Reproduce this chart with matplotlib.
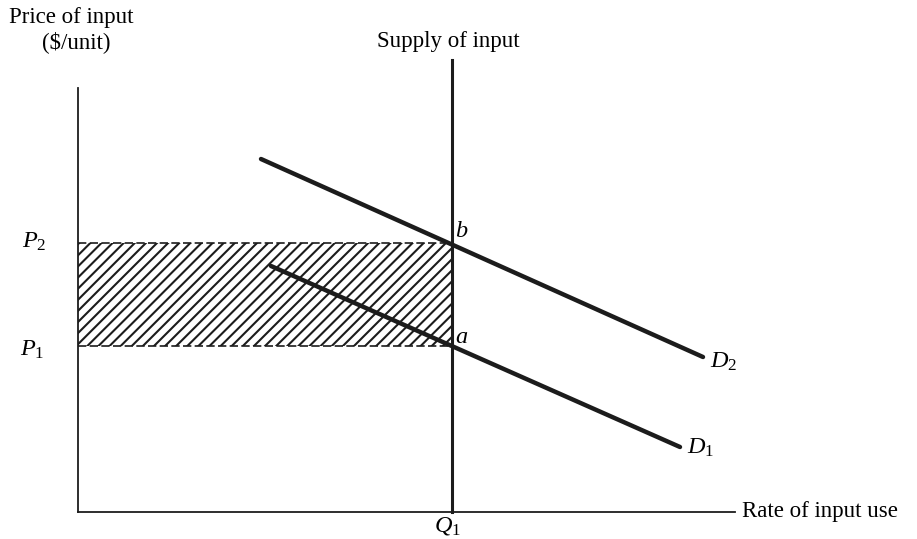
import numpy as np
import matplotlib.pyplot as plt
import matplotlib as mpl

mpl.rcParams['mathtext.fontset'] = 'custom'
mpl.rcParams['mathtext.rm'] = 'Liberation Serif'
mpl.rcParams['mathtext.it'] = 'Liberation Serif:italic'
mpl.rcParams['hatch.linewidth'] = 1.5

# Werte (Koordinaten relativ zum Ursprung)
q1 = 374
p1 = 166
p2 = 269
d1_x = [193, 602]
d1_y = [246, 65]
d2_x = [183, 625]
d2_y = [353, 155]
supply_top = 452
y_axis_top = 424
x_axis_end = 657

ink = '#1c1c1c'
serif = 'Liberation Serif'

fig = plt.figure(figsize=(9.17, 5.39), dpi=100)
ax = fig.add_axes([0, 0, 1, 1])
ax.set_xlim(-78, 839)
ax.set_ylim(-27, 512)
ax.axis('off')

# Achsen
ax.plot([0, 0], [0, y_axis_top], color=ink, lw=1.3)
ax.plot([0, x_axis_end], [0, 0], color=ink, lw=1.3)

# Schraffierte Fläche zwischen P1 und P2
ax.fill_between([0, q1], p1, p2, facecolor='none', edgecolor=ink, hatch='///', lw=0)
ax.plot([0, q1], [p2, p2], color=ink, lw=1.2, ls=(0, (5, 2)))
ax.plot([0, q1], [p1, p1], color=ink, lw=1.2, ls=(0, (5, 2)))

# Angebot
ax.plot([q1, q1], [0, supply_top], color=ink, lw=2.2)

# Nachfragekurven
ax.plot(d1_x, d1_y, color=ink, lw=3.2, solid_capstyle='round')
ax.plot(d2_x, d2_y, color=ink, lw=3.2, solid_capstyle='round')

# Beschriftungen
fs = 16.5
fi = 17.5
ax.text(-7, 494, 'Price of input', fontsize=fs, family=serif, ha='center', va='center')
ax.text(-2, 470, '($/unit)', fontsize=fs, family=serif, ha='center', va='center')
ax.text(q1 - 4, 471, 'Supply of input', fontsize=fs, family=serif, ha='center', va='center')
ax.text(664, 0, 'Rate of input use', fontsize=fs, family=serif, ha='left', va='center')

ax.text(-44, p2 + 2, r'$P_2$', fontsize=fi, ha='center', va='center')
ax.text(-46, p1 - 3, r'$P_1$', fontsize=fi, ha='center', va='center')
ax.text(q1 + 10, p2 + 13, r'$b$', fontsize=fi, ha='center', va='center')
ax.text(q1 + 10, p1 + 10, r'$a$', fontsize=fi, ha='center', va='center')
ax.text(d2_x[1] + 21, d2_y[1] - 4, r'$D_2$', fontsize=fi, ha='center', va='center')
ax.text(d1_x[1] + 21, d1_y[1], r'$D_1$', fontsize=fi, ha='center', va='center')
ax.text(q1 - 4, -13, r'$Q_1$', fontsize=fi, ha='center', va='center')

plt.savefig('out.png', dpi=100)
